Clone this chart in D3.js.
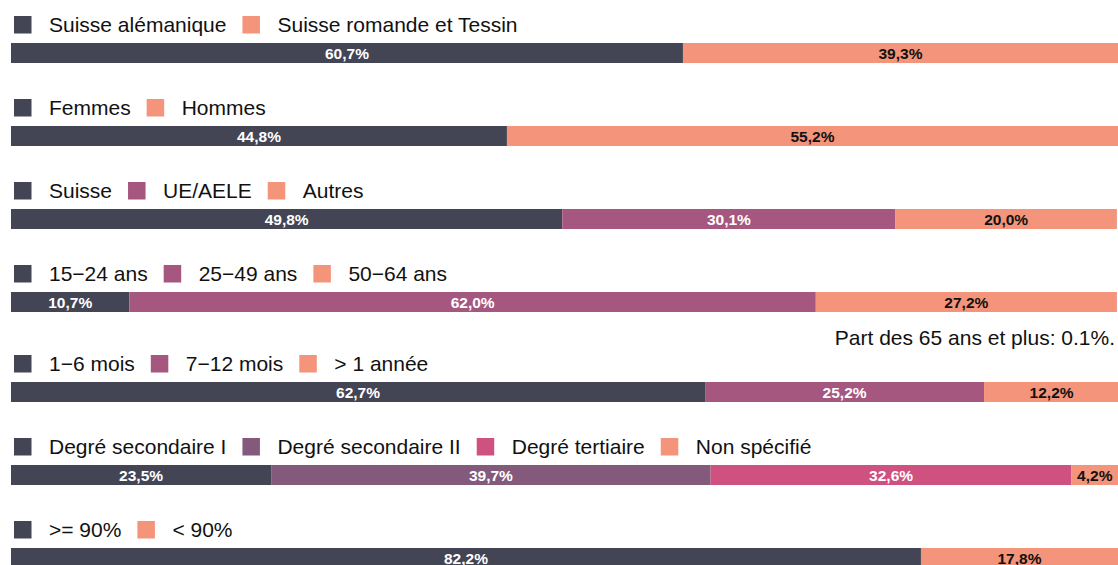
<!DOCTYPE html>
<html>
<head>
<meta charset="utf-8">
<script src="https://cdn.jsdelivr.net/npm/d3@7"></script>
<style>
  body { margin: 0; background: #fff; }
  svg { display: block; font-family: "Liberation Sans", Arial, sans-serif; }
</style>
</head>
<body>
<div id="chart"></div>
<script>
// data, one pair of arrays per bar
const regionCats = ["Suisse alémanique", "Suisse romande et Tessin"];
const regionVals = [60.7, 39.3];
const sexCats = ["Femmes", "Hommes"];
const sexVals = [44.8, 55.2];
const natCats = ["Suisse", "UE/AELE", "Autres"];
const natVals = [49.8, 30.1, 20.0];
const ageCats = ["15\u221224 ans", "25\u221249 ans", "50\u221264 ans"];
const ageVals = [10.7, 62.0, 27.2];
const durCats = ["1\u22126 mois", "7\u221212 mois", "> 1 année"];
const durVals = [62.7, 25.2, 12.2];
const eduCats = ["Degré secondaire I", "Degré secondaire II", "Degré tertiaire", "Non spécifié"];
const eduVals = [23.5, 39.7, 32.6, 4.2];
const rateCats = [">= 90%", "< 90%"];
const rateVals = [82.2, 17.8];
const ageNote = "Part des 65 ans et plus: 0.1%.";

const dark = "#434454", salmon = "#f4947a", plum = "#a6577f", mauve = "#845a7c", pink = "#ce5180";

const rows = [
  { cats: regionCats, vals: regionVals, colors: [dark, salmon] },
  { cats: sexCats, vals: sexVals, colors: [dark, salmon] },
  { cats: natCats, vals: natVals, colors: [dark, plum, salmon] },
  { cats: ageCats, vals: ageVals, colors: [dark, plum, salmon], note: ageNote },
  { cats: durCats, vals: durVals, colors: [dark, plum, salmon] },
  { cats: eduCats, vals: eduVals, colors: [dark, mauve, pink, salmon] },
  { cats: rateCats, vals: rateVals, colors: [dark, salmon] }
];

const width = 1118, height = 565;
const svg = d3.select("#chart").append("svg")
  .attr("width", width).attr("height", height);

const x = d3.scaleLinear().domain([0, 100]).range([11, 1118]);
const barY = 43, barH = 20;
const fmt = v => d3.format(".1f")(v).replace(".", ",") + "%";

let offsetY = 0;
rows.forEach((row) => {
  const g = svg.append("g").attr("transform", `translate(0,${offsetY})`);

  // legend
  let lx = 14;
  row.cats.forEach((c, i) => {
    g.append("rect")
      .attr("x", lx).attr("y", 16).attr("width", 17.5).attr("height", 17.5)
      .attr("fill", row.colors[i]);
    const t = g.append("text")
      .attr("x", lx + 35).attr("y", 32)
      .attr("font-size", "21px").attr("fill", "#111")
      .text(c);
    lx += 35 + t.node().getComputedTextLength() + 16;
  });

  // stacked bar
  let acc = 0;
  const segs = row.vals.map((v, i) => {
    const s = { v, start: acc, color: row.colors[i] };
    acc += v;
    return s;
  });
  g.selectAll("rect.seg").data(segs).join("rect")
    .attr("class", "seg")
    .attr("x", d => x(d.start))
    .attr("width", d => x(d.start + d.v) - x(d.start))
    .attr("y", barY).attr("height", barH)
    .attr("fill", d => d.color);
  g.selectAll("text.lbl").data(segs).join("text")
    .attr("class", "lbl")
    .attr("x", d => (x(d.start) + x(d.start + d.v)) / 2)
    .attr("y", barY + 15.5)
    .attr("text-anchor", "middle")
    .attr("font-size", "15.5px").attr("font-weight", "bold")
    .attr("fill", d => d.color === salmon ? "#111" : "#fff")
    .text(d => fmt(d.v));

  if (row.note) {
    g.append("text")
      .attr("x", 1115).attr("y", barY + barH + 33)
      .attr("text-anchor", "end")
      .attr("font-size", "21px").attr("fill", "#111")
      .text(row.note);
    offsetY += 90;
  } else {
    offsetY += 83;
  }
});
</script>
</body>
</html>
